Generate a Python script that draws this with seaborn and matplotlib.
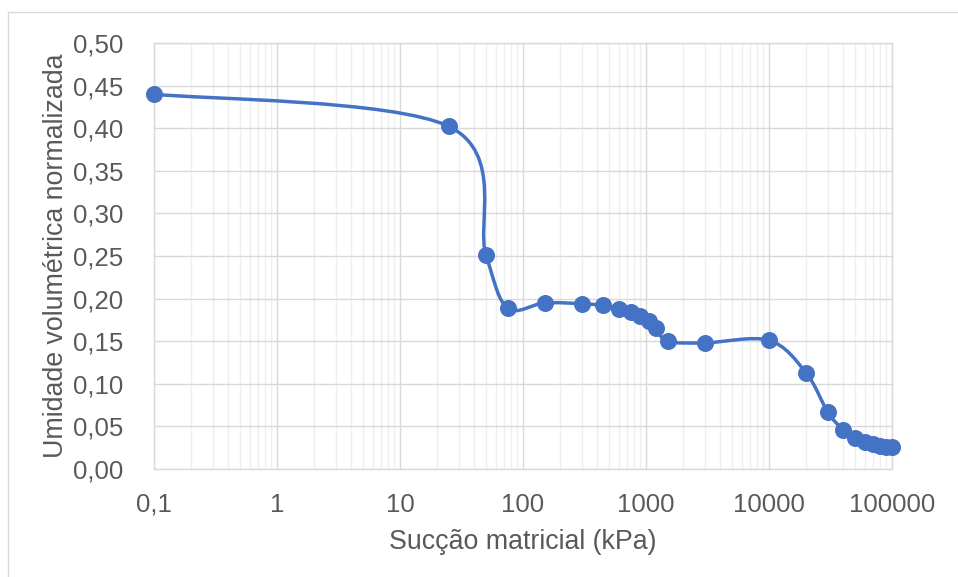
import numpy as np
import matplotlib
matplotlib.use("Agg")
import matplotlib.pyplot as plt
from matplotlib.path import Path
from matplotlib.patches import PathPatch
from matplotlib.lines import Line2D
from matplotlib.ticker import FixedLocator, FuncFormatter, LogLocator, NullFormatter
import seaborn as sns
import pandas as pd

# data
succao = [0.1, 25, 50, 75, 150, 300, 450, 600, 750, 900, 1050, 1200, 1500,
          3000, 10000, 20000, 30000, 40000, 50000, 60000, 70000, 80000, 90000, 100000]
umidade = [0.440, 0.402, 0.251, 0.189, 0.195, 0.194, 0.192, 0.188, 0.184, 0.180,
           0.174, 0.166, 0.150, 0.148, 0.151, 0.113, 0.067, 0.046, 0.036, 0.032,
           0.029, 0.027, 0.026, 0.026]
x_ticks = [0.1, 1, 10, 100, 1000, 10000, 100000]
x_tick_labels = ["0,1", "1", "10", "100", "1000", "10000", "100000"]
y_ticks = [0.0, 0.05, 0.10, 0.15, 0.20, 0.25, 0.30, 0.35, 0.40, 0.45, 0.50]

df = pd.DataFrame({"x": succao, "y": umidade})

sns.set_theme(style="white")
plt.rcParams['font.family'] = ['Liberation Sans', 'DejaVu Sans']

W, H = 958, 577
fig = plt.figure(figsize=(W / 100, H / 100), dpi=100)
ax = fig.add_axes([154 / W, 1 - 469 / H, (892 - 154) / W, (469 - 43) / H])

color = "#4472C4"
grid_major = "#d9d9d9"
grid_minor = "#efefef"
text_col = "#595959"

ax.set_xscale("log")
ax.set_xlim(0.1, 100000)
ax.set_ylim(0, 0.5)

# smooth Bezier curve (Excel-style) in log-x space
lx = np.log10(np.array(succao, dtype=float))
yy = np.array(umidade, dtype=float)
n = len(lx)
verts = [(lx[0], yy[0])]
codes = [Path.MOVETO]
t = 1 / 6
for i in range(n - 1):
    p0 = i - 1 if i > 0 else i
    p3 = i + 2 if i + 2 < n else i + 1
    c1 = (lx[i] + (lx[i + 1] - lx[p0]) * t, yy[i] + (yy[i + 1] - yy[p0]) * t)
    c2 = (lx[i + 1] - (lx[p3] - lx[i]) * t, yy[i + 1] - (yy[p3] - yy[i]) * t)
    verts += [c1, c2, (lx[i + 1], yy[i + 1])]
    codes += [Path.CURVE4] * 3
verts = [(10 ** vx, vy) for vx, vy in verts]
patch = PathPatch(Path(verts, codes), facecolor="none", edgecolor=color, lw=2.5,
                  zorder=3, capstyle="round", joinstyle="round")
ax.add_patch(patch)

sns.scatterplot(data=df, x="x", y="y", ax=ax, color=color, s=150, edgecolor=color,
                linewidth=0, zorder=4, clip_on=False)

ax.xaxis.set_major_locator(FixedLocator(x_ticks))
ax.xaxis.set_major_formatter(FuncFormatter(lambda v, p: x_tick_labels[x_ticks.index(v)] if v in x_ticks else ""))
ax.xaxis.set_minor_locator(LogLocator(base=10, subs=np.arange(2, 10), numticks=50))
ax.xaxis.set_minor_formatter(NullFormatter())
ax.set_yticks(y_ticks)
ax.set_yticklabels([f"{v:.2f}".replace(".", ",") for v in y_ticks])

ax.grid(True, which="major", axis="both", color=grid_major, lw=1.0, zorder=0)
ax.grid(True, which="minor", axis="x", color=grid_minor, lw=1.0, zorder=0)
ax.set_axisbelow(True)
for s in ax.spines.values():
    s.set_color(grid_major)
    s.set_linewidth(1.0)

ax.tick_params(axis="both", which="both", length=0, labelsize=18.6, labelcolor=text_col)
ax.tick_params(axis="x", pad=17)
ax.tick_params(axis="y", pad=22)

ax.set_xlabel("Sucção matricial (kPa)", fontsize=19.3, color=text_col, labelpad=9)
ax.set_ylabel("Umidade volumétrica normalizada", fontsize=19.3, color=text_col, labelpad=3)

# chart area border (partially visible)
fig.add_artist(Line2D([8 / W, 1], [1 - 12 / H, 1 - 12 / H], color=grid_major, lw=1.0))
fig.add_artist(Line2D([8 / W, 8 / W], [0, 1 - 12 / H], color=grid_major, lw=1.0))

fig.savefig("out.png", dpi=100, facecolor="white")
